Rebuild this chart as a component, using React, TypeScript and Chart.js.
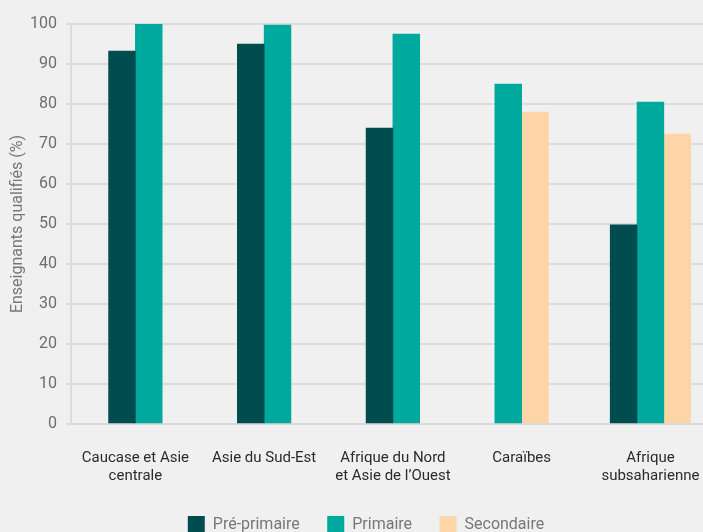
import { useEffect, useRef } from "react";
import { Chart, registerables } from "chart.js";

Chart.register(...registerables);

const categories: (string | string[])[] = [
  ["Caucase et Asie", "centrale"],
  "Asie du Sud-Est",
  ["Afrique du Nord", "et Asie de l’Ouest"],
  "Caraïbes",
  ["Afrique", "subsaharienne"],
];
const seriesNames = ["Pré-primaire", "Primaire", "Secondaire"];
const prePrimaire = [93.2, 95, 74, null, 49.8];
const primaire = [100, 99.7, 97.5, 85, 80.5];
const secondaire = [null, null, null, 78, 72.5];
const colors = ["#004c4f", "#00a99d", "#fdd5a6"];
const yTitle = "Enseignants qualifiés (%)";
const yMin = 0;
const yMax = 100;
const yStep = 10;

const FONT = "Roboto, sans-serif";

export default function App() {
  const ref = useRef<HTMLCanvasElement | null>(null);

  useEffect(() => {
    document.documentElement.style.overflow = "hidden";
    document.body.style.overflow = "hidden";
    document.body.style.margin = "0";
    document.body.style.background = "#f0f0f0";
    if (!ref.current) return;
    const chart = new Chart(ref.current, {
      type: "bar",
      data: {
        labels: categories,
        datasets: [prePrimaire, primaire, secondaire].map((d, i) => ({
          label: seriesNames[i],
          data: d,
          backgroundColor: colors[i],
          borderWidth: 0,
          barThickness: 26.8,
          skipNull: true,
        })),
      },
      options: {
        responsive: false,
        animation: false,
        layout: { padding: { top: 24, left: 0, right: 0, bottom: 0 } },
        plugins: {
          tooltip: { enabled: false },
          legend: {
            position: "bottom",
            labels: {
              boxWidth: 17,
              boxHeight: 17,
              padding: 27.5,
              color: "#777777",
              font: { family: FONT, size: 16 },
            },
          },
        },
        scales: {
          x: {
            grid: { display: false, drawTicks: false },
            border: { display: true, color: "#d9d9d9", width: 2 },
            ticks: {
              color: "#2b2b2b",
              font: { family: FONT, size: 15, lineHeight: 1.23 },
              padding: 25,
              maxRotation: 0,
              autoSkip: false,
            },
            afterFit: (s: any) => {
              s.height = 64.5;
            },
          },
          y: {
            min: yMin,
            max: yMax,
            ticks: {
              stepSize: yStep,
              color: "#6d6d6d",
              font: { family: FONT, size: 16 },
              padding: 9,
            },
            grid: { color: "#dcdcdc", lineWidth: 2, tickLength: 5, drawTicks: true },
            border: { display: true, color: "#dcdcdc", width: 2 },
            title: {
              display: true,
              text: yTitle,
              color: "#777777",
              font: { family: FONT, size: 16 },
              padding: { top: 8, bottom: 0 },
            },
            afterFit: (s: any) => {
              s.width = 71;
            },
          },
          y2: {
            type: "linear",
            position: "right",
            display: true,
            grid: { display: false },
            ticks: { display: false },
            border: { display: false },
            afterFit: (s: any) => {
              s.width = 17.2;
            },
          },
        },
      } as any,
    });
    return () => chart.destroy();
  }, []);

  return (
    <div style={{ position: "absolute", left: 0, top: 0, width: 732, height: 543 }}>
      <canvas ref={ref} width={732} height={543} style={{ width: 732, height: 543 }} />
    </div>
  );
}
